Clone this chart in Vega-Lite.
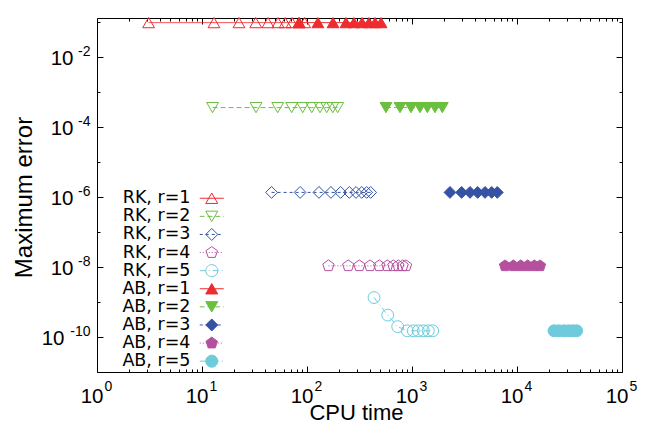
{
  "$schema": "https://vega.github.io/schema/vega-lite/v6.json",
  "width": 525,
  "height": 354,
  "autosize": {"type": "none"},
  "padding": {"left": 97, "top": 18, "right": 24, "bottom": 55},
  "background": "white",
  "config": {
    "view": {"stroke": "black", "strokeWidth": 1},
    "font": "Liberation Sans",
    "axis": {
      "grid": false, "domain": false, "tickColor": "black", "tickWidth": 1,
      "labelColor": "black", "titleColor": "black",
      "labelFont": "Liberation Sans", "titleFont": "Liberation Sans",
      "titleFontWeight": "normal", "labelOverlap": false, "labelFlush": false, "labelBound": false
    },
    "legend": {"labelFont": "DejaVu Sans", "labelColor": "black", "rowPadding": -0.9, "gridAlign": "none"}
  },
  "resolve": {
    "axis": {"x": "independent", "y": "independent"},
    "scale": {"shape": "independent", "stroke": "independent", "fill": "independent"}
  },
  "data": {"values": [
    {"series": "RK, r=1", "t": 3.1, "err": 0.093},
    {"series": "RK, r=1", "t": 13, "err": 0.093},
    {"series": "RK, r=1", "t": 22.5, "err": 0.093},
    {"series": "RK, r=1", "t": 32.5, "err": 0.093},
    {"series": "RK, r=1", "t": 42.5, "err": 0.093},
    {"series": "RK, r=1", "t": 53, "err": 0.093},
    {"series": "RK, r=1", "t": 62, "err": 0.093},
    {"series": "RK, r=1", "t": 72, "err": 0.093},
    {"series": "RK, r=1", "t": 84, "err": 0.093},
    {"series": "RK, r=1", "t": 95, "err": 0.093},
    {"series": "RK, r=2", "t": 12.6, "err": 0.00035},
    {"series": "RK, r=2", "t": 32.7, "err": 0.00035},
    {"series": "RK, r=2", "t": 52.6, "err": 0.00035},
    {"series": "RK, r=2", "t": 71.5, "err": 0.00035},
    {"series": "RK, r=2", "t": 91, "err": 0.00035},
    {"series": "RK, r=2", "t": 111, "err": 0.00035},
    {"series": "RK, r=2", "t": 133, "err": 0.00035},
    {"series": "RK, r=2", "t": 154, "err": 0.00035},
    {"series": "RK, r=2", "t": 176, "err": 0.00035},
    {"series": "RK, r=2", "t": 196, "err": 0.00035},
    {"series": "RK, r=3", "t": 46, "err": 1.33e-6},
    {"series": "RK, r=3", "t": 86, "err": 1.33e-6},
    {"series": "RK, r=3", "t": 130, "err": 1.33e-6},
    {"series": "RK, r=3", "t": 169, "err": 1.33e-6},
    {"series": "RK, r=3", "t": 209, "err": 1.33e-6},
    {"series": "RK, r=3", "t": 253, "err": 1.33e-6},
    {"series": "RK, r=3", "t": 293, "err": 1.33e-6},
    {"series": "RK, r=3", "t": 332, "err": 1.33e-6},
    {"series": "RK, r=3", "t": 370, "err": 1.33e-6},
    {"series": "RK, r=3", "t": 404, "err": 1.33e-6},
    {"series": "RK, r=4", "t": 160, "err": 1.07e-8},
    {"series": "RK, r=4", "t": 247, "err": 1.07e-8},
    {"series": "RK, r=4", "t": 315, "err": 1.07e-8},
    {"series": "RK, r=4", "t": 398, "err": 1.07e-8},
    {"series": "RK, r=4", "t": 488, "err": 1.07e-8},
    {"series": "RK, r=4", "t": 582, "err": 1.07e-8},
    {"series": "RK, r=4", "t": 664, "err": 1.07e-8},
    {"series": "RK, r=4", "t": 741, "err": 1.07e-8},
    {"series": "RK, r=4", "t": 815, "err": 1.07e-8},
    {"series": "RK, r=4", "t": 877, "err": 1.07e-8},
    {"series": "RK, r=5", "t": 435, "err": 1.33e-9},
    {"series": "RK, r=5", "t": 587, "err": 4.2e-10},
    {"series": "RK, r=5", "t": 731, "err": 1.97e-10},
    {"series": "RK, r=5", "t": 902, "err": 1.5e-10},
    {"series": "RK, r=5", "t": 1029, "err": 1.5e-10},
    {"series": "RK, r=5", "t": 1148, "err": 1.5e-10},
    {"series": "RK, r=5", "t": 1282, "err": 1.5e-10},
    {"series": "RK, r=5", "t": 1430, "err": 1.5e-10},
    {"series": "RK, r=5", "t": 1575, "err": 1.5e-10},
    {"series": "AB, r=1", "t": 84, "err": 0.093},
    {"series": "AB, r=1", "t": 127, "err": 0.093},
    {"series": "AB, r=1", "t": 177, "err": 0.093},
    {"series": "AB, r=1", "t": 235, "err": 0.093},
    {"series": "AB, r=1", "t": 280, "err": 0.093},
    {"series": "AB, r=1", "t": 334, "err": 0.093},
    {"series": "AB, r=1", "t": 389, "err": 0.093},
    {"series": "AB, r=1", "t": 445, "err": 0.093},
    {"series": "AB, r=1", "t": 507, "err": 0.093},
    {"series": "AB, r=2", "t": 565, "err": 0.00035},
    {"series": "AB, r=2", "t": 769, "err": 0.00035},
    {"series": "AB, r=2", "t": 978, "err": 0.00035},
    {"series": "AB, r=2", "t": 1191, "err": 0.00035},
    {"series": "AB, r=2", "t": 1400, "err": 0.00035},
    {"series": "AB, r=2", "t": 1656, "err": 0.00035},
    {"series": "AB, r=2", "t": 1944, "err": 0.00035},
    {"series": "AB, r=3", "t": 2300, "err": 1.33e-6},
    {"series": "AB, r=3", "t": 2970, "err": 1.33e-6},
    {"series": "AB, r=3", "t": 3570, "err": 1.33e-6},
    {"series": "AB, r=3", "t": 4220, "err": 1.33e-6},
    {"series": "AB, r=3", "t": 4960, "err": 1.33e-6},
    {"series": "AB, r=3", "t": 5740, "err": 1.33e-6},
    {"series": "AB, r=3", "t": 6490, "err": 1.33e-6},
    {"series": "AB, r=4", "t": 7690, "err": 1.07e-8},
    {"series": "AB, r=4", "t": 9230, "err": 1.07e-8},
    {"series": "AB, r=4", "t": 10850, "err": 1.07e-8},
    {"series": "AB, r=4", "t": 12640, "err": 1.07e-8},
    {"series": "AB, r=4", "t": 14620, "err": 1.07e-8},
    {"series": "AB, r=4", "t": 16560, "err": 1.07e-8},
    {"series": "AB, r=5", "t": 22500, "err": 1.5e-10},
    {"series": "AB, r=5", "t": 25000, "err": 1.5e-10},
    {"series": "AB, r=5", "t": 28000, "err": 1.5e-10},
    {"series": "AB, r=5", "t": 31000, "err": 1.5e-10},
    {"series": "AB, r=5", "t": 34000, "err": 1.5e-10},
    {"series": "AB, r=5", "t": 37000, "err": 1.5e-10}
  ]},
  "layer": [
    {
      "transform": [{"filter": "indexof(datum.series, 'RK') == 0"}],
      "mark": {"type": "line", "strokeWidth": 1},
      "encoding": {
        "x": {
          "field": "t", "type": "quantitative",
          "scale": {"type": "log", "domain": [1, 100000], "nice": false},
          "axis": {
            "orient": "bottom", "title": "CPU time", "titleFontSize": 22,
            "titleBaseline": "alphabetic", "titleY": 47, "titleX": 259,
            "values": [1,2,3,4,5,6,7,8,9,10,20,30,40,50,60,70,80,90,100,200,300,400,500,600,700,800,900,1000,2000,3000,4000,5000,6000,7000,8000,9000,10000,20000,30000,40000,50000,60000,70000,80000,90000,100000],
            "labelExpr": "abs(log(datum.value)/LN10 - round(log(datum.value)/LN10)) < 0.001 ? '10' : ''",
            "tickSize": {"condition": {"test": "abs(log(datum.value)/LN10 - round(log(datum.value)/LN10)) < 0.001", "value": -6}, "value": -3},
            "labelFontSize": 20.5, "labelAlign": "right", "labelBaseline": "alphabetic", "labelOffset": 6, "labelPadding": 36
          }
        },
        "y": {
          "field": "err", "type": "quantitative",
          "scale": {"type": "log", "domain": [1e-11, 0.126], "nice": false},
          "axis": {
            "orient": "left", "title": "Maximum error", "titleFontSize": 24,
            "titleBaseline": "alphabetic", "titleX": -66, "titleY": 179,
            "values": [1e-11,1e-10,1e-9,1e-8,1e-7,1e-6,1e-5,1e-4,1e-3,1e-2,1e-1],
            "labelExpr": "round(log(datum.value)/LN10) % 2 == 0 ? '10' : ''",
            "tickSize": {"condition": {"test": "round(log(datum.value)/LN10) % 2 == 0", "value": -6}, "value": -3},
            "labelFontSize": 20.5, "labelAlign": "right", "labelBaseline": "middle", "labelOffset": 2,
            "labelPadding": {"condition": {"test": "datum.value < 5e-10", "value": 39}, "value": 30}
          }
        },
        "color": {"field": "series", "type": "nominal", "scale": {"range": ["#ee2b2f","#6abf3f","#3453a4","#b5509f","#6dcbdc"]}, "legend": null},
        "strokeDash": {"field": "series", "type": "nominal", "scale": {"range": [[1,0],[5,3],[3,3],[1,2],[6,3,1,3]]}, "legend": null}
      }
    },
    {
      "transform": [{"filter": "indexof(datum.series, 'AB') == 0"}],
      "mark": {"type": "line", "strokeWidth": 1},
      "encoding": {
        "x": {
          "field": "t", "type": "quantitative",
          "scale": {"type": "log", "domain": [1, 100000], "nice": false},
          "axis": {
            "orient": "bottom", "title": null,
            "values": [1,10,100,1000,10000,100000],
            "labelExpr": "toString(round(log(datum.value)/LN10))",
            "ticks": false,
            "labelFontSize": 14, "labelAlign": "left", "labelBaseline": "alphabetic", "labelOffset": 7, "labelPadding": 18
          }
        },
        "y": {
          "field": "err", "type": "quantitative",
          "scale": {"type": "log", "domain": [1e-11, 0.126], "nice": false},
          "axis": {
            "orient": "left", "title": null,
            "values": [1e-10,1e-8,1e-6,1e-4,1e-2],
            "labelExpr": "toString(round(log(datum.value)/LN10))",
            "ticks": false,
            "labelFontSize": 14, "labelAlign": "right", "labelBaseline": "middle", "labelOffset": -5, "labelPadding": 7
          }
        },
        "color": {"field": "series", "type": "nominal", "scale": {"range": ["#ee2b2f","#6abf3f","#3453a4","#b5509f","#6dcbdc"]}, "legend": null},
        "strokeDash": {"field": "series", "type": "nominal", "scale": {"range": [[1,0],[5,3],[3,3],[1,2],[6,3,1,3]]}, "legend": null}
      }
    },
    {
      "mark": {"type": "point", "size": 140, "strokeWidth": 1, "opacity": 1},
      "encoding": {
        "x": {
          "field": "t", "type": "quantitative",
          "scale": {"type": "log", "domain": [1, 100000], "nice": false},
          "axis": {
            "orient": "top", "title": null, "labels": false,
            "values": [1,2,3,4,5,6,7,8,9,10,20,30,40,50,60,70,80,90,100,200,300,400,500,600,700,800,900,1000,2000,3000,4000,5000,6000,7000,8000,9000,10000,20000,30000,40000,50000,60000,70000,80000,90000,100000],
            "tickSize": {"condition": {"test": "abs(log(datum.value)/LN10 - round(log(datum.value)/LN10)) < 0.001", "value": -6}, "value": -3}
          }
        },
        "y": {
          "field": "err", "type": "quantitative",
          "scale": {"type": "log", "domain": [1e-11, 0.126], "nice": false},
          "axis": {
            "orient": "right", "title": null, "labels": false,
            "values": [1e-11,1e-10,1e-9,1e-8,1e-7,1e-6,1e-5,1e-4,1e-3,1e-2,1e-1],
            "tickSize": {"condition": {"test": "round(log(datum.value)/LN10) % 2 == 0", "value": -6}, "value": -3}
          }
        },
        "shape": {
          "field": "series", "type": "nominal", "legend": null,
          "scale": {"domain": ["RK, r=1","RK, r=2","RK, r=3","RK, r=4","RK, r=5","AB, r=1","AB, r=2","AB, r=3","AB, r=4","AB, r=5"],
                    "range": ["triangle-up","triangle-down","diamond","M0,-1L0.951,-0.309L0.588,0.809L-0.588,0.809L-0.951,-0.309Z","circle","triangle-up","triangle-down","diamond","M0,-1L0.951,-0.309L0.588,0.809L-0.588,0.809L-0.951,-0.309Z","circle"]}
        },
        "stroke": {
          "field": "series", "type": "nominal", "legend": null,
          "scale": {"domain": ["RK, r=1","RK, r=2","RK, r=3","RK, r=4","RK, r=5","AB, r=1","AB, r=2","AB, r=3","AB, r=4","AB, r=5"],
                    "range": ["#ee2b2f","#6abf3f","#3453a4","#b5509f","#6dcbdc","#ee2b2f","#6abf3f","#3453a4","#b5509f","#6dcbdc"]}
        },
        "fill": {
          "field": "series", "type": "nominal", "legend": null,
          "scale": {"domain": ["RK, r=1","RK, r=2","RK, r=3","RK, r=4","RK, r=5","AB, r=1","AB, r=2","AB, r=3","AB, r=4","AB, r=5"],
                    "range": ["transparent","transparent","transparent","transparent","transparent","#ee2b2f","#6abf3f","#3453a4","#b5509f","#6dcbdc"]}
        }
      }
    },
    {
      "transform": [{"filter": "false"}],
      "mark": {"type": "point", "strokeWidth": 1, "opacity": 1},
      "encoding": {
        "shape": {
          "field": "series", "type": "nominal",
          "scale": {"domain": ["RK, r=1","RK, r=2","RK, r=3","RK, r=4","RK, r=5","AB, r=1","AB, r=2","AB, r=3","AB, r=4","AB, r=5"],
                    "range": [
                      "M-2,0H2M0,-0.866L-1,0.866L1,0.866Z",
                      "M-2,0H-1.2M-0.7,0H0.1M0.6,0H1.4M1.9,0H2M0,0.866L-1,-0.866L1,-0.866Z",
                      "M-2,0H-1.5M-1,0H-0.5M0,0H0.5M1,0H1.5M0,-1L1,0L0,1L-1,0Z",
                      "M-2,0H-1.83M-1.5,0H-1.33M-1,0H-0.83M-0.5,0H-0.33M0,0H0.17M0.5,0H0.67M1,0H1.17M1.5,0H1.67M0,-1L0.951,-0.309L0.588,0.809L-0.588,0.809L-0.951,-0.309Z",
                      "M-2,0H-1M-0.5,0H-0.33M0.17,0H1.17M1.67,0H1.83M1,0A1,1 0 1,1 -1,0A1,1 0 1,1 1,0Z",
                      "M-2,0H2M0,-0.866L-1,0.866L1,0.866Z",
                      "M-2,0H-1.2M-0.7,0H0.1M0.6,0H1.4M1.9,0H2M0,0.866L-1,-0.866L1,-0.866Z",
                      "M-2,0H-1.5M-1,0H-0.5M0,0H0.5M1,0H1.5M0,-1L1,0L0,1L-1,0Z",
                      "M-2,0H-1.83M-1.5,0H-1.33M-1,0H-0.83M-0.5,0H-0.33M0,0H0.17M0.5,0H0.67M1,0H1.17M1.5,0H1.67M0,-1L0.951,-0.309L0.588,0.809L-0.588,0.809L-0.951,-0.309Z",
                      "M-2,0H-1M-0.5,0H-0.33M0.17,0H1.17M1.67,0H1.83M1,0A1,1 0 1,1 -1,0A1,1 0 1,1 1,0Z"
                    ]},
          "legend": {"orient": "none", "legendX": 106, "legendY": 171.5, "title": null, "symbolSize": 144, "symbolStrokeWidth": 1, "labelAlign": "right", "labelOffset": -30, "labelFontSize": 17.5, "labelFont": "DejaVu Sans", "labelLimit": 300, "rowPadding": -0.9, "padding": 0}
        },
        "stroke": {
          "field": "series", "type": "nominal",
          "scale": {"domain": ["RK, r=1","RK, r=2","RK, r=3","RK, r=4","RK, r=5","AB, r=1","AB, r=2","AB, r=3","AB, r=4","AB, r=5"],
                    "range": ["#ee2b2f","#6abf3f","#3453a4","#b5509f","#6dcbdc","#ee2b2f","#6abf3f","#3453a4","#b5509f","#6dcbdc"]},
          "legend": {"orient": "none", "legendX": 106, "legendY": 171.5, "title": null, "symbolSize": 144, "symbolStrokeWidth": 1, "labelAlign": "right", "labelOffset": -30, "labelFontSize": 17.5, "labelFont": "DejaVu Sans", "labelLimit": 300, "rowPadding": -0.9, "padding": 0}
        },
        "fill": {
          "field": "series", "type": "nominal",
          "scale": {"domain": ["RK, r=1","RK, r=2","RK, r=3","RK, r=4","RK, r=5","AB, r=1","AB, r=2","AB, r=3","AB, r=4","AB, r=5"],
                    "range": ["transparent","transparent","transparent","transparent","transparent","#ee2b2f","#6abf3f","#3453a4","#b5509f","#6dcbdc"]},
          "legend": {"orient": "none", "legendX": 106, "legendY": 171.5, "title": null, "symbolSize": 144, "symbolStrokeWidth": 1, "labelAlign": "right", "labelOffset": -30, "labelFontSize": 17.5, "labelFont": "DejaVu Sans", "labelLimit": 300, "rowPadding": -0.9, "padding": 0}
        }
      }
    }
  ]
}
